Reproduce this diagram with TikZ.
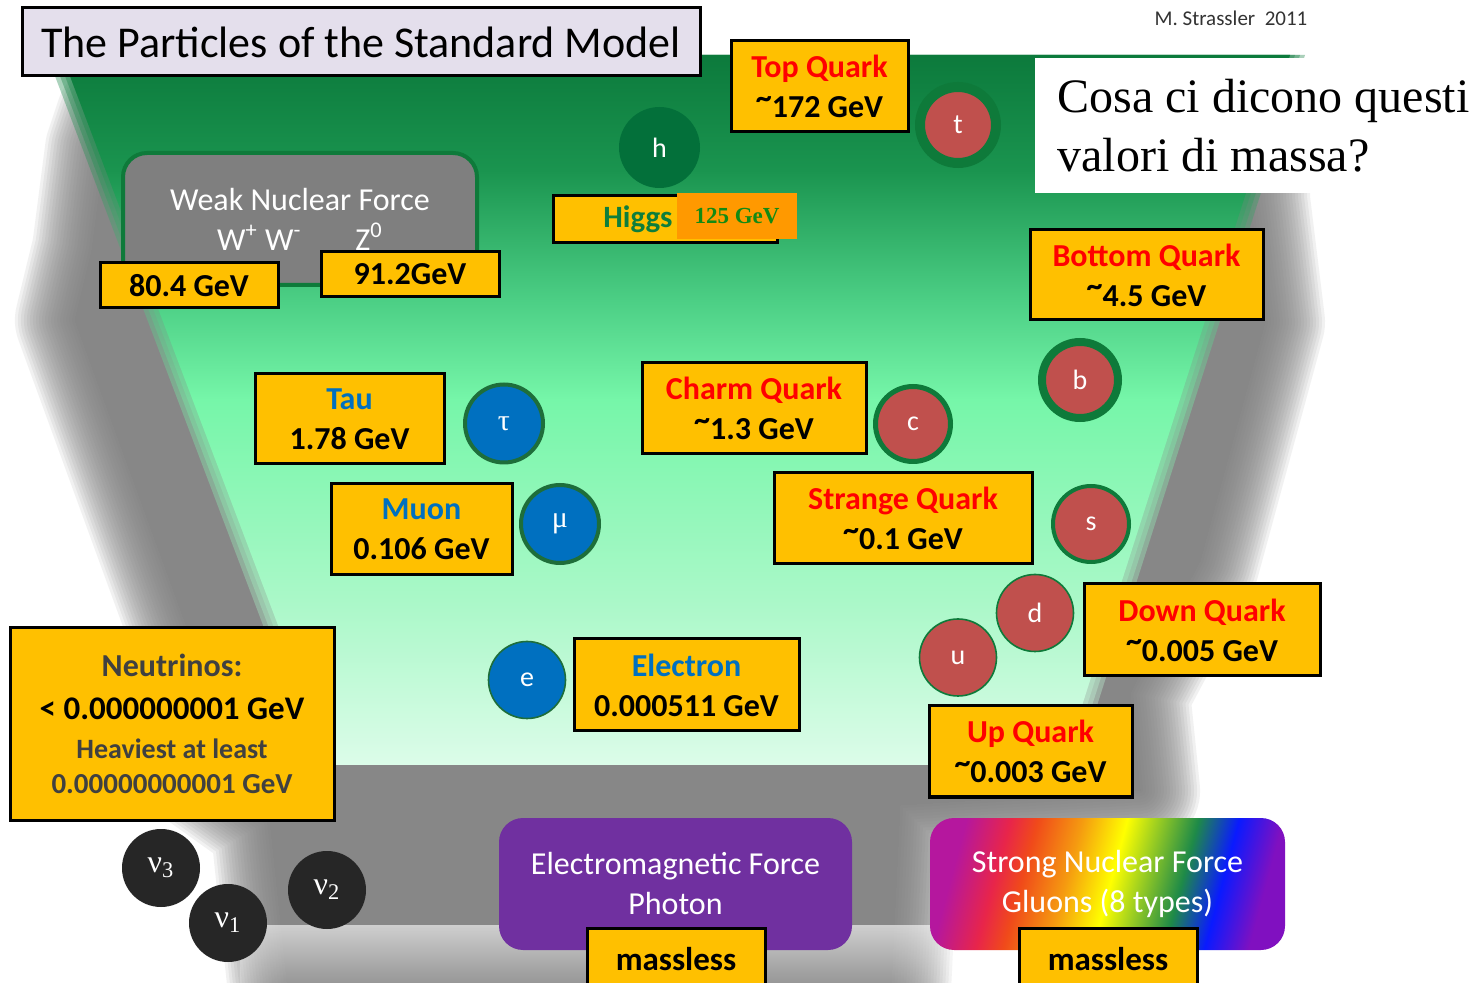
\documentclass[tikz,border=0pt]{standalone}
\usepackage{fontspec}
\setmainfont{Carlito}
\newfontfamily\tnr{Liberation Serif}
\usetikzlibrary{fadings}
\newcommand\mytilde{\raisebox{0.3em}{\textasciitilde}}
\definecolor{gold}{HTML}{FFC000}
\definecolor{qred}{HTML}{C0504D}
\definecolor{ringgreen}{HTML}{0E7A3A}
\definecolor{lepring}{HTML}{1E6E3A}
\definecolor{lepblue}{HTML}{0070C0}
\definecolor{hgreen}{HTML}{03703A}
\definecolor{higgsorange}{HTML}{FF9900}
\definecolor{higgstext}{HTML}{0E7E3C}
\definecolor{gevgreen}{HTML}{138A13}
\definecolor{titlebg}{HTML}{E4DFEC}
\definecolor{weakgray}{HTML}{7F7F7F}
\definecolor{emviolet}{HTML}{7030A0}
\definecolor{nublack}{HTML}{262626}
\definecolor{ntext}{HTML}{404040}
\definecolor{shadowgray}{HTML}{7E7E7E}
\definecolor{gw1}{HTML}{DCFCE9}
\definecolor{gw2}{HTML}{AAF8C8}
\definecolor{gw3}{HTML}{76F6A9}
\definecolor{gw4}{HTML}{4CCF85}
\definecolor{gw5}{HTML}{1A944F}
\definecolor{gw6}{HTML}{0C7A3C}
\definecolor{rb1}{HTML}{B5179E}
\definecolor{rb2}{HTML}{E8254A}
\definecolor{rb3}{HTML}{F04A1A}
\definecolor{rb4}{HTML}{F59A10}
\definecolor{rb5}{HTML}{FFFF00}
\definecolor{rb6}{HTML}{A0D020}
\definecolor{rb7}{HTML}{1E8A48}
\definecolor{rb8}{HTML}{0A1AFF}
\definecolor{rb9}{HTML}{8010C0}
\pgfdeclareverticalshading{greenwall}{100bp}{color(0bp)=(gw1); color(25bp)=(gw1); color(36.6bp)=(gw2); color(50.7bp)=(gw3); color(57.7bp)=(gw4); color(66.9bp)=(gw5); color(75bp)=(gw6); color(100bp)=(gw6)}
\pgfdeclarehorizontalshading{rainbow}{100bp}{color(0bp)=(rb1); color(25bp)=(rb1); color(32bp)=(rb2); color(36.3bp)=(rb3); color(43.3bp)=(rb4); color(50.4bp)=(rb5); color(55bp)=(rb6); color(61.6bp)=(rb7); color(68bp)=(rb8); color(75bp)=(rb9); color(100bp)=(rb9)}
\begin{document}
\begin{tikzpicture}[x=0.5pt,y=-0.5pt,
  box/.style={draw=black, line width=1.5pt, fill=gold, inner sep=0pt, align=center,
    font=\bfseries\fontsize{16}{20}\selectfont},
  force/.style={rounded corners=12pt, inner sep=0pt, align=center, text=white,
    minimum width=176.5pt, minimum height=66pt, font=\fontsize{16}{20}\selectfont},
  particle/.style={circle, inner sep=0pt, text=white, font=\fontsize{14}{14}\selectfont},
  quark/.style={particle, fill=qred, draw=ringgreen},
  lepton/.style={particle, fill=lepblue, draw=lepring, font=\tnr\fontsize{15}{15}\selectfont},
  neutrino/.style={particle, fill=nublack, minimum size=39pt, font=\tnr\fontsize{16}{16}\selectfont}]
\useasboundingbox (0,0) rectangle (1484,983);
\clip (0,0) rectangle (1484,983);
\fill[white] (0,0) rectangle (1484,983);
% soft grey walls and floor
\foreach \w in {0,6,...,120}{
  \begin{scope}[transparency group, opacity=0.1]
    \path[fill=shadowgray, draw=shadowgray, line join=round, line width={\w*0.5pt}]
      (115,120) -- (1250,120) -- (1250,200) -- (1265,322) -- (1200,561) -- (1130,693)
      -- (1140,790) -- (900,805) -- (890,1010) -- (290,1010) -- (270,820) -- (200,770)
      -- (187,627) -- (75,320) -- (92,250) -- (105,150) -- cycle;
  \end{scope}
}
\fill[white, path fading=south, fill opacity=0.6] (240,925) rectangle (980,1000);
% green back wall with soft side edges
\foreach \k in {-10,-5,0,5}{
  \shade[shading=greenwall, opacity=0.35]
    ({52-\k},55) -- ({1300+\k},55) -- ({1073+\k},765) -- ({321-\k},765) -- cycle;
}
\shade[shading=greenwall] (62,55) -- (1290,55) -- (1063,765) -- (331,765) -- cycle;

% weak force
\node[force, fill=weakgray, draw=ringgreen, line width=2pt, minimum width=177pt]
  (weak) at (300,219) {Weak Nuclear Force\\W\textsuperscript{+} W\textsuperscript{-}\hspace{27pt}Z\textsuperscript{0}};
\node[box, minimum width=89pt, minimum height=22.5pt] (wmass) at (189,285.5) {80.4 GeV};
\node[box, minimum width=89pt, minimum height=22.5pt] (zmass) at (410,274.5) {91.2GeV};

% Higgs
\node[particle, fill=hgreen, minimum size=40.5pt] (h) at (659.5,147.5) {h};
\node[box, minimum width=112pt, minimum height=23.5pt] (higgsbox) at (665,219.5) {};
\node[fill=higgsorange, minimum width=60pt, minimum height=23pt, inner sep=0pt,
  text=gevgreen, font=\tnr\bfseries\fontsize{11.5}{13}\selectfont] (higgsmass) at (737,216) {125 GeV};
\node[text=higgstext, font=\bfseries\fontsize{15.5}{18}\selectfont, inner sep=0pt] (higgslbl) at (638,219) {Higgs};

% title and credits
\node[draw=black, line width=1.5pt, fill=titlebg, minimum width=339pt, minimum height=34pt,
  inner sep=0pt, font=\fontsize{22}{26}\selectfont] (title) at (361,42) {The Particles of the Standard Model};
\node[text=black!80, font=\fontsize{10.5}{12}\selectfont, inner sep=0pt] (author) at (1231,18) {M. Strassler\ \ 2011};
\node[fill=white, anchor=north west, minimum width=230pt, minimum height=67.5pt, inner sep=0pt] (qbox) at (1035,58) {};
\node[anchor=base west, inner sep=0pt, font=\tnr\fontsize{24}{29.5}\selectfont] (q1) at (1057,113) {Cosa ci dicono questi};
\node[anchor=base west, inner sep=0pt, font=\tnr\fontsize{24}{29.5}\selectfont] (q2) at (1057,172) {valori di massa?};

% quarks
\node[box, minimum width=88.5pt, minimum height=45.5pt] (topq) at (819.5,86.5) {\textcolor{red}{Top Quark}\\\mytilde172 GeV};
\node[quark, minimum size=38pt, line width=5pt] (t) at (958,125) {t};
\node[box, minimum width=116.5pt, minimum height=45pt] (botq) at (1146.5,275) {\textcolor{red}{Bottom Quark}\\\mytilde4.5 GeV};
\node[quark, minimum size=38pt, line width=4pt] (b) at (1080,380) {b};
\node[box, minimum width=112pt, minimum height=45.5pt] (charmq) at (754,408.5) {\textcolor{red}{Charm Quark}\\\mytilde1.3 GeV};
\node[quark, minimum size=37.5pt, line width=2.5pt] (c) at (913,424) {c};
\node[box, minimum width=129pt, minimum height=45.5pt] (strangeq) at (903,518.5) {\textcolor{red}{Strange Quark}\\\mytilde0.1 GeV};
\node[quark, minimum size=38pt, line width=2pt] (s) at (1091,524) {s};
\node[quark, minimum size=38.5pt, line width=0.8pt] (d) at (1035,613) {d};
\node[quark, minimum size=38.5pt, line width=0.8pt] (u) at (958,657.5) {u};
\node[box, minimum width=118pt, minimum height=46pt] (downq) at (1202,630) {\textcolor{red}{Down Quark}\\\mytilde0.005 GeV};
\node[box, minimum width=101.5pt, minimum height=45.5pt] (upq) at (1030.5,751.5) {\textcolor{red}{Up Quark}\\\mytilde0.003 GeV};

% leptons
\node[box, minimum width=94.5pt, minimum height=45pt] (taub) at (349.5,419) {\textcolor{lepblue}{Tau}\\1.78 GeV};
\node[lepton, minimum size=39pt, line width=2pt] (tau) at (504,423.5) {τ};
\node[box, minimum width=90.5pt, minimum height=45.5pt] (muonb) at (421.5,529.5) {\textcolor{lepblue}{Muon}\\0.106 GeV};
\node[lepton, minimum size=39pt, line width=2pt] (mu) at (560,524) {μ};
\node[particle, fill=lepblue, draw=lepring, line width=0.8pt, minimum size=38.5pt] (e) at (527,680) {e};
\node[box, minimum width=112.5pt, minimum height=46pt] (electronb) at (686.5,685) {\textcolor{lepblue}{Electron}\\0.000511 GeV};

% neutrinos
\node[box, minimum width=162pt, minimum height=96pt] (nub) at (172,724)
  {\textcolor{ntext}{\fontsize{16}{20}\selectfont Neutrinos:}\\[1.5pt]
   {\fontsize{16.5}{20}\selectfont < 0.000000001 GeV}\\[-0.5pt]
   \textcolor{ntext}{\fontsize{14}{20}\selectfont Heaviest at least}\\[-2.5pt]
   \textcolor{ntext}{\fontsize{14.5}{20}\selectfont 0.00000000001 GeV}};
\node[neutrino] (nu3) at (161,868) {ν\textsubscript{3}};
\node[neutrino] (nu1) at (228,923) {ν\textsubscript{1}};
\node[neutrino] (nu2) at (327,890) {ν\textsubscript{2}};

% massless forces
\node[force, fill=emviolet] (em) at (675.5,884) {Electromagnetic Force\\Photon};
\node[box, minimum width=89pt, minimum height=31pt, font=\bfseries\fontsize{16.5}{20}\selectfont] (gam) at (676,959) {massless};
\node[force, shade, shading=rainbow, shading angle=-15, minimum width=177.5pt] (strong) at (1107.5,884) {Strong Nuclear Force\\Gluons (8 types)};
\node[box, minimum width=89pt, minimum height=31pt, font=\bfseries\fontsize{16.5}{20}\selectfont] (glu) at (1108,959) {massless};
\end{tikzpicture}
\end{document}
